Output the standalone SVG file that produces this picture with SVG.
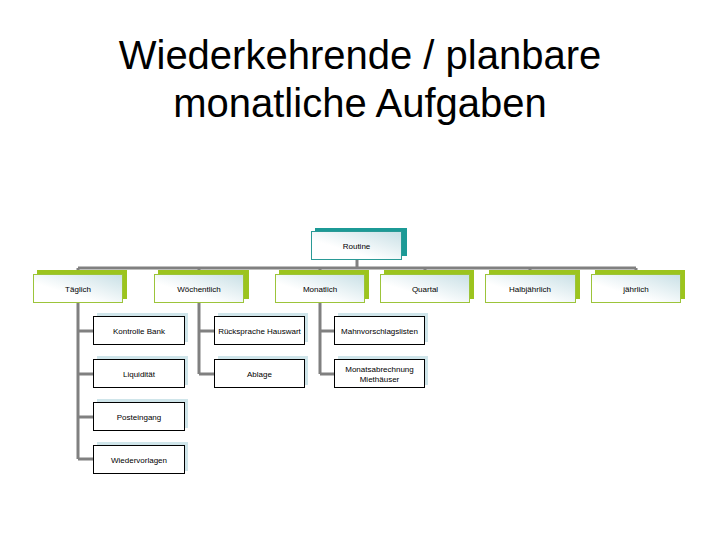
<svg xmlns="http://www.w3.org/2000/svg" width="720" height="540" viewBox="0 0 720 540">
<defs>
<linearGradient id="gf" x1="0" y1="1" x2="1" y2="0">
<stop offset="0.35" stop-color="#ffffff"/>
<stop offset="1" stop-color="#c9e0e6"/>
</linearGradient>
</defs>
<style>
.title{font-family:"Liberation Sans",Arial,sans-serif;font-size:40px;fill:#000;text-anchor:middle}
.lbl{font-family:"Liberation Sans",Arial,sans-serif;font-size:8px;fill:#000;text-anchor:middle;dominant-baseline:central}
.conn{stroke:#808080;stroke-width:3;fill:none}
.backT{fill:#1c9a96}
.backG{fill:#9cc41e}
.backB{fill:#cfe5ea}
.frontT{fill:url(#gf);stroke:#2a9a96;stroke-width:1}
.frontG{fill:url(#gf);stroke:#9cc43a;stroke-width:1}
.frontW{fill:#fff;stroke:#000;stroke-width:1}
</style>
<rect width="720" height="540" fill="#fff"/>
<text class="title" x="360" y="69">Wiederkehrende / planbare</text>
<text class="title" x="360" y="117">monatliche Aufgaben</text>
<g id="connectors">
<path class="conn" d="M357 259V268M78 268H636M78 268V274M199 268V274M320 268V274M425 268V274M530 268V274M636 268V274"/>
<path class="conn" d="M78 303V459M78 331H93M78 374H93M78 417H93M78 459H93"/>
<path class="conn" d="M199 303V374M199 331H214M199 374H214"/>
<path class="conn" d="M320 303V374M320 331H334M320 374H334"/>
</g>
<g id="routine"><rect class="backT" x="315" y="228" width="92" height="28"/><rect class="frontT" x="311.5" y="231.5" width="90" height="28"/><text class="lbl" x="356.5" y="246">Routine</text></g>
<g id="taeglich"><rect class="backG" x="37" y="270" width="90" height="29"/><rect class="frontG" x="33.5" y="274.5" width="89" height="28"/><text class="lbl" x="78" y="289">Täglich</text></g>
<g id="woechentlich"><rect class="backG" x="158" y="270" width="91" height="29"/><rect class="frontG" x="154.5" y="274.5" width="89" height="28"/><text class="lbl" x="199" y="289">Wöchentlich</text></g>
<g id="monatlich"><rect class="backG" x="279" y="270" width="90" height="29"/><rect class="frontG" x="275.5" y="274.5" width="89" height="28"/><text class="lbl" x="320" y="289">Monatlich</text></g>
<g id="quartal"><rect class="backG" x="384" y="270" width="90" height="29"/><rect class="frontG" x="380.5" y="274.5" width="89" height="28"/><text class="lbl" x="425" y="289">Quartal</text></g>
<g id="halbjaehrlich"><rect class="backG" x="489" y="270" width="91" height="29"/><rect class="frontG" x="485.5" y="274.5" width="90" height="28"/><text class="lbl" x="530" y="289">Halbjährlich</text></g>
<g id="jaehrlich"><rect class="backG" x="595" y="270" width="90" height="29"/><rect class="frontG" x="591.5" y="274.5" width="89" height="28"/><text class="lbl" x="636" y="289">jährlich</text></g>
<g id="kontrolle"><rect class="backB" x="97" y="313" width="91" height="29"/><rect class="frontW" x="93.5" y="316.5" width="91" height="28"/><text class="lbl" x="139" y="331">Kontrolle Bank</text></g>
<g id="liquiditaet"><rect class="backB" x="97" y="356" width="91" height="29"/><rect class="frontW" x="93.5" y="359.5" width="91" height="28"/><text class="lbl" x="139" y="374">Liquidität</text></g>
<g id="posteingang"><rect class="backB" x="97" y="399" width="91" height="29"/><rect class="frontW" x="93.5" y="402.5" width="91" height="28"/><text class="lbl" x="139" y="417">Posteingang</text></g>
<g id="wiedervorlagen"><rect class="backB" x="97" y="442" width="91" height="29"/><rect class="frontW" x="93.5" y="445.5" width="91" height="28"/><text class="lbl" x="139" y="460">Wiedervorlagen</text></g>
<g id="ruecksprache"><rect class="backB" x="218" y="313" width="90" height="29"/><rect class="frontW" x="214.5" y="316.5" width="90" height="28"/><text class="lbl" x="259.5" y="331">Rücksprache Hauswart</text></g>
<g id="ablage"><rect class="backB" x="218" y="356" width="90" height="29"/><rect class="frontW" x="214.5" y="359.5" width="90" height="28"/><text class="lbl" x="259.5" y="374">Ablage</text></g>
<g id="mahn"><rect class="backB" x="338" y="313" width="90" height="29"/><rect class="frontW" x="334.5" y="316.5" width="90" height="28"/><text class="lbl" x="379.5" y="331">Mahnvorschlagslisten</text></g>
<g id="monatsabrechnung"><rect class="backB" x="338" y="356" width="90" height="29"/><rect class="frontW" x="334.5" y="359.5" width="90" height="28"/><text class="lbl" x="379.5" y="369">Monatsabrechnung</text><text class="lbl" x="379.5" y="379">Miethäuser</text></g>
</svg>
